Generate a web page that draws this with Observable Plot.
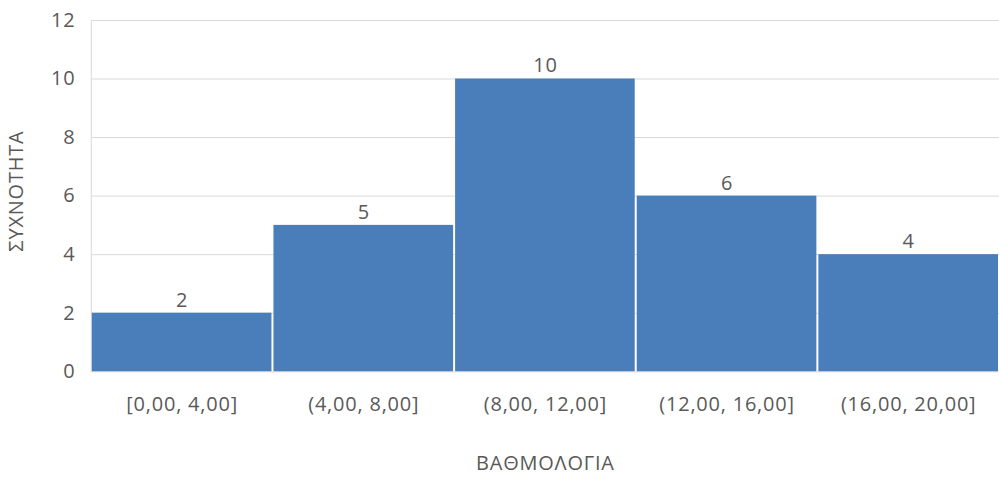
<!DOCTYPE html>
<html>
<head>
<meta charset="utf-8">
<script src="https://cdn.jsdelivr.net/npm/d3@7"></script>
<script src="https://cdn.jsdelivr.net/npm/@observablehq/plot@0.6"></script>
<style>
  html, body { margin: 0; padding: 0; background: #fff; overflow: hidden; }
  #chart svg { font-family: "Open Sans", "DejaVu Sans", sans-serif; letter-spacing: 0.8px; }
</style>
</head>
<body>
<div id="chart"></div>
<script>
const categories = ["[0,00, 4,00]", "(4,00, 8,00]", "(8,00, 12,00]", "(12,00, 16,00]", "(16,00, 20,00]"];
const frequencies = [2, 5, 10, 6, 4];
const yTicks = [0, 2, 4, 6, 8, 10, 12];
const xTitle = "ΒΑΘΜΟΛΟΓΙΑ";
const yTitle = "ΣΥΧΝΟΤΗΤΑ";

const data = categories.map((c, i) => ({category: c, value: frequencies[i]}));
const textColor = "#595959";
const barColor = "#4a7ebb";
const fs = 20;

const chart = Plot.plot({
  width: 1001,
  height: 477,
  marginLeft: 91,
  marginRight: 0,
  marginTop: 20,
  marginBottom: 105,
  style: {fontSize: fs + "px", color: textColor, background: "#fff"},
  x: {domain: categories, padding: 0, label: null},
  y: {domain: [0, 12], label: null},
  marks: [
    Plot.gridY(yTicks, {stroke: "#d9d9d9", strokeOpacity: 1, strokeWidth: 1}),
    Plot.ruleX([categories[0]], {x: d => d, dx: -91, stroke: "#d9d9d9", y1: 0, y2: 12}),
    Plot.barY(data, {x: "category", y: "value", fill: barColor, insetLeft: 1, insetRight: 1}),
    Plot.text(data, {x: "category", y: "value", text: d => String(d.value), dy: -13, fill: textColor, fontSize: fs}),
    Plot.axisY(yTicks, {tickSize: 0, tickPadding: 16, fill: textColor, fontSize: fs, label: null}),
    Plot.axisX({tickSize: 0, tickPadding: 25, fill: textColor, fontSize: fs, label: null}),
    Plot.text([xTitle], {frameAnchor: "bottom", dy: 98, text: d => d, fill: textColor, fontSize: fs}),
    Plot.text([yTitle], {frameAnchor: "left", textAnchor: "middle", dx: -75, dy: -5, rotate: -90, text: d => d, fill: textColor, fontSize: fs})
  ]
});
document.getElementById("chart").appendChild(chart);
</script>
</body>
</html>
